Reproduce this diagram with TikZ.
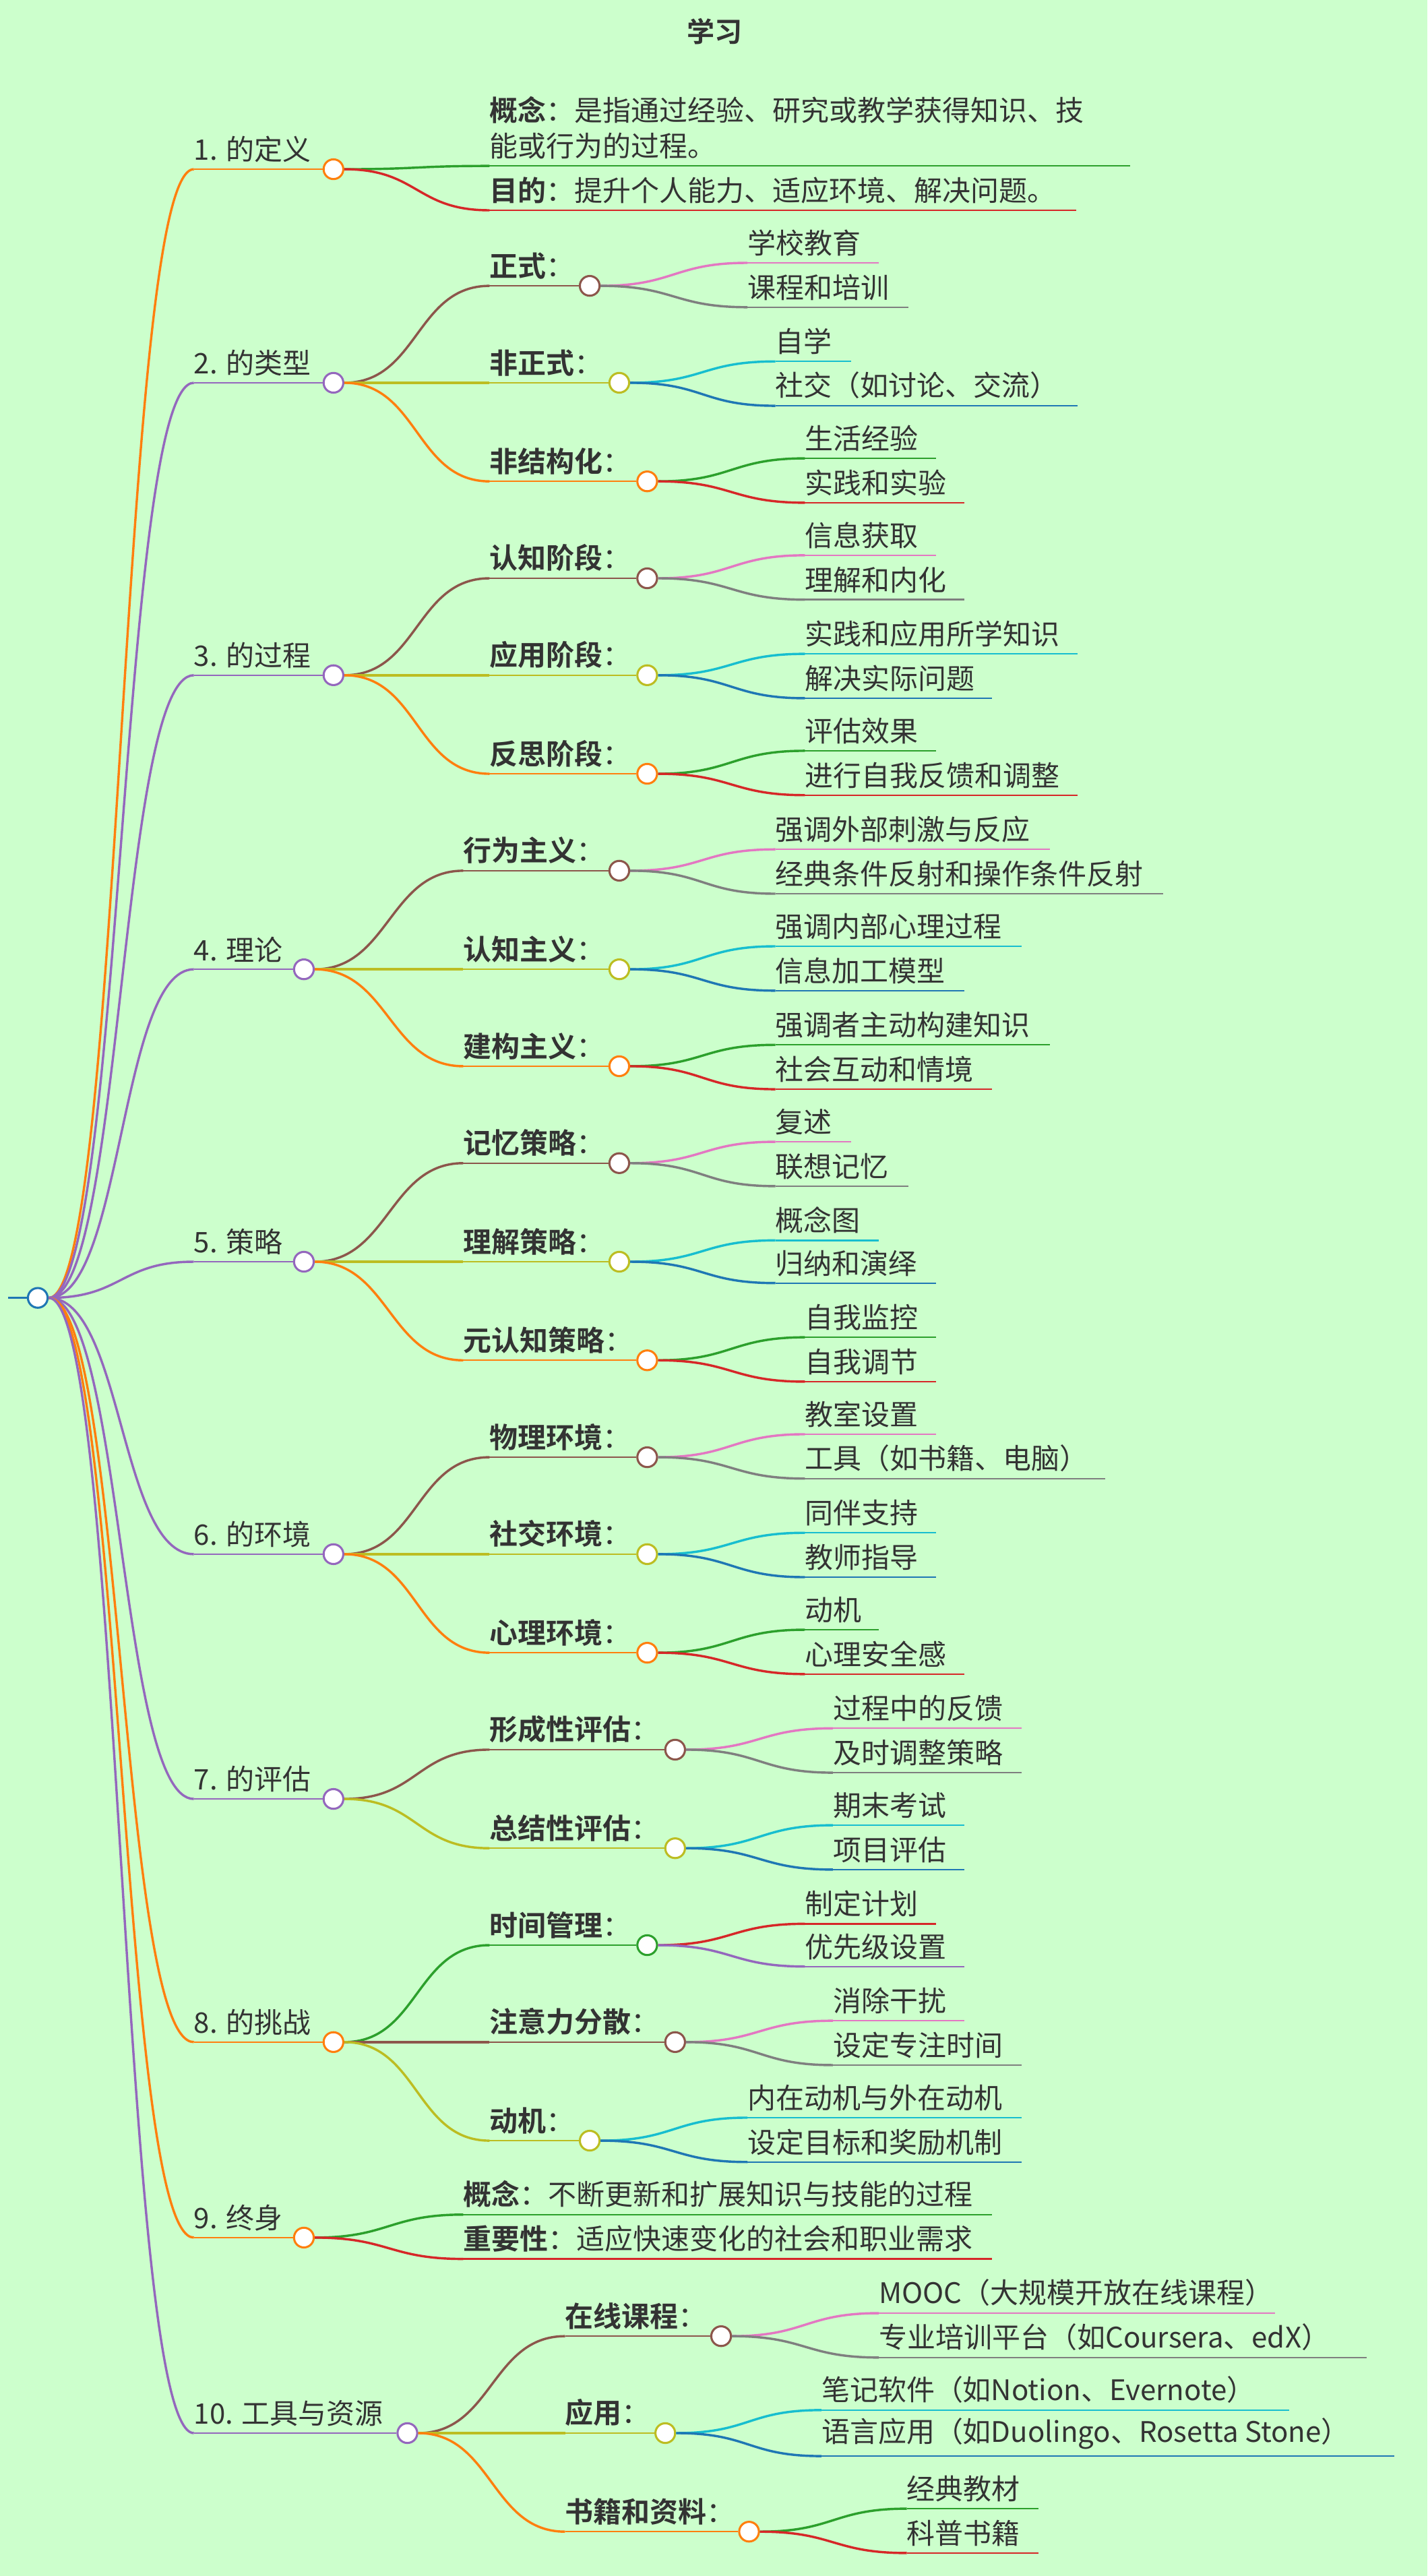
\documentclass[tikz,border=0pt]{standalone}
\usepackage{fontspec}
\setmainfont{Noto Sans CJK SC}[BoldFont={Noto Sans CJK SC Bold}]
\definecolor{bg}{HTML}{CCFFCC}
\definecolor{cOrange}{HTML}{FF7F0E}
\definecolor{cPurple}{HTML}{9467BD}
\definecolor{cBrown}{HTML}{8C564B}
\definecolor{cOlive}{HTML}{BCBD22}
\definecolor{cPink}{HTML}{E377C2}
\definecolor{cGray}{HTML}{7F7F7F}
\definecolor{cCyan}{HTML}{17BECF}
\definecolor{cBlue}{HTML}{1F77B4}
\definecolor{cGreen}{HTML}{2CA02C}
\definecolor{cRed}{HTML}{D62728}
\definecolor{txt}{HTML}{333333}
\tikzset{
	dot/.style={circle,draw=#1,fill=white,line width=1.8pt,minimum size=0.6cm,inner sep=0pt},
	edge/.style={line width=2pt},
	uline/.style={line width=1.4pt},
	lbl/.style={inner sep=0pt,anchor=south west,text=txt,font=\fontsize{24.5}{31}\selectfont,align=left}
}
% topic: name, parent, x, y, circle x, colour, text
\newcommand{\mmtopic}[7]{%
	\coordinate (#1s) at (#3,#4);
	\node[dot=#6] (#1) at (#5,#4) {};
	\node[lbl] (#1t) at (#3,#4-4) {#7};
	\draw[#6,edge] (#2.east) .. controls +(45,0) and +(-45,0) .. (#1s);
	\draw[#6,uline] (#1s) -- (#1.west);
}
% leaf: name, parent, x, y, end x, colour, text
\newcommand{\mmleaf}[7]{%
	\coordinate (#1s) at (#3,#4);
	\coordinate (#1e) at (#5,#4);
	\node[lbl] (#1t) at (#3,#4-4) {#7};
	\draw[#6,edge] (#2.east) .. controls +(45,0) and +(-45,0) .. (#1s);
	\draw[#6,uline] (#1s) -- (#1e);
}
\begin{document}
\begin{tikzpicture}[x=0.05cm,y=-0.05cm]
	\fill[bg] (0,0) rectangle (869,1568);
	\node[text=txt,font=\fontsize{24}{28}\selectfont\bfseries] (title) at (435,19) {学习};
	
	%root
	\coordinate (rootin) at (5,790);
	\node[dot=cBlue] (root) at (23,790) {};
	\draw[cBlue,edge] (rootin) -- (root.west);
	
	%1
	\mmtopic{a}{root}{118}{103}{203}{cOrange}{1. 的定义}
	\mmleaf{aa}{a}{298}{101}{688}{cGreen}{\textbf{概念}：是指通过经验、研究或教学获得知识、技\\能或行为的过程。}
	\mmleaf{ab}{a}{298}{128}{655}{cRed}{\textbf{目的}：提升个人能力、适应环境、解决问题。}
	
	%2
	\mmtopic{b}{root}{118}{233}{203}{cPurple}{2. 的类型}
	\mmtopic{ba}{b}{298}{174}{359}{cBrown}{\textbf{正式}：}
	\mmleaf{baa}{ba}{455}{160}{535}{cPink}{学校教育}
	\mmleaf{bab}{ba}{455}{187}{553}{cGray}{课程和培训}
	\mmtopic{bb}{b}{298}{233}{377}{cOlive}{\textbf{非正式}：}
	\mmleaf{bba}{bb}{472}{220}{518}{cCyan}{自学}
	\mmleaf{bbb}{bb}{472}{247}{656}{cBlue}{社交（如讨论、交流）}
	\mmtopic{bc}{b}{298}{293}{394}{cOrange}{\textbf{非结构化}：}
	\mmleaf{bca}{bc}{490}{279}{570}{cGreen}{生活经验}
	\mmleaf{bcb}{bc}{490}{306}{587}{cRed}{实践和实验}
	
	%3
	\mmtopic{c}{root}{118}{411}{203}{cPurple}{3. 的过程}
	\mmtopic{ca}{c}{298}{352}{394}{cBrown}{\textbf{认知阶段}：}
	\mmleaf{caa}{ca}{490}{338}{570}{cPink}{信息获取}
	\mmleaf{cab}{ca}{490}{365}{587}{cGray}{理解和内化}
	\mmtopic{cb}{c}{298}{411}{394}{cOlive}{\textbf{应用阶段}：}
	\mmleaf{cba}{cb}{490}{398}{656}{cCyan}{实践和应用所学知识}
	\mmleaf{cbb}{cb}{490}{425}{604}{cBlue}{解决实际问题}
	\mmtopic{cc}{c}{298}{471}{394}{cOrange}{\textbf{反思阶段}：}
	\mmleaf{cca}{cc}{490}{457}{570}{cGreen}{评估效果}
	\mmleaf{ccb}{cc}{490}{484}{656}{cRed}{进行自我反馈和调整}
	
	%4
	\mmtopic{d}{root}{118}{590}{185}{cPurple}{4. 理论}
	\mmtopic{da}{d}{282}{530}{377}{cBrown}{\textbf{行为主义}：}
	\mmleaf{daa}{da}{472}{517}{639}{cPink}{强调外部刺激与反应}
	\mmleaf{dab}{da}{472}{544}{708}{cGray}{经典条件反射和操作条件反射}
	\mmtopic{db}{d}{282}{590}{377}{cOlive}{\textbf{认知主义}：}
	\mmleaf{dba}{db}{472}{576}{622}{cCyan}{强调内部心理过程}
	\mmleaf{dbb}{db}{472}{603}{587}{cBlue}{信息加工模型}
	\mmtopic{dc}{d}{282}{649}{377}{cOrange}{\textbf{建构主义}：}
	\mmleaf{dca}{dc}{472}{636}{639}{cGreen}{强调者主动构建知识}
	\mmleaf{dcb}{dc}{472}{663}{604}{cRed}{社会互动和情境}
	
	%5
	\mmtopic{e}{root}{118}{768}{185}{cPurple}{5. 策略}
	\mmtopic{ea}{e}{282}{708}{377}{cBrown}{\textbf{记忆策略}：}
	\mmleaf{eaa}{ea}{472}{695}{518}{cPink}{复述}
	\mmleaf{eab}{ea}{472}{722}{553}{cGray}{联想记忆}
	\mmtopic{eb}{e}{282}{768}{377}{cOlive}{\textbf{理解策略}：}
	\mmleaf{eba}{eb}{472}{755}{535}{cCyan}{概念图}
	\mmleaf{ebb}{eb}{472}{781}{570}{cBlue}{归纳和演绎}
	\mmtopic{ec}{e}{282}{828}{394}{cOrange}{\textbf{元认知策略}：}
	\mmleaf{eca}{ec}{490}{814}{570}{cGreen}{自我监控}
	\mmleaf{ecb}{ec}{490}{841}{570}{cRed}{自我调节}
	
	%6
	\mmtopic{f}{root}{118}{946}{203}{cPurple}{6. 的环境}
	\mmtopic{fa}{f}{298}{887}{394}{cBrown}{\textbf{物理环境}：}
	\mmleaf{faa}{fa}{490}{873}{570}{cPink}{教室设置}
	\mmleaf{fab}{fa}{490}{900}{673}{cGray}{工具（如书籍、电脑）}
	\mmtopic{fb}{f}{298}{946}{394}{cOlive}{\textbf{社交环境}：}
	\mmleaf{fba}{fb}{490}{933}{570}{cCyan}{同伴支持}
	\mmleaf{fbb}{fb}{490}{960}{570}{cBlue}{教师指导}
	\mmtopic{fc}{f}{298}{1006}{394}{cOrange}{\textbf{心理环境}：}
	\mmleaf{fca}{fc}{490}{992}{535}{cGreen}{动机}
	\mmleaf{fcb}{fc}{490}{1019}{587}{cRed}{心理安全感}
	
	%7
	\mmtopic{g}{root}{118}{1095}{203}{cPurple}{7. 的评估}
	\mmtopic{ga}{g}{298}{1065}{411}{cBrown}{\textbf{形成性评估}：}
	\mmleaf{gaa}{ga}{507}{1052}{622}{cPink}{过程中的反馈}
	\mmleaf{gab}{ga}{507}{1079}{622}{cGray}{及时调整策略}
	\mmtopic{gb}{g}{298}{1125}{411}{cOlive}{\textbf{总结性评估}：}
	\mmleaf{gba}{gb}{507}{1111}{587}{cCyan}{期末考试}
	\mmleaf{gbb}{gb}{507}{1138}{587}{cBlue}{项目评估}
	
	%8
	\mmtopic{h}{root}{118}{1243}{203}{cOrange}{8. 的挑战}
	\mmtopic{ha}{h}{298}{1184}{394}{cGreen}{\textbf{时间管理}：}
	\mmleaf{haa}{ha}{490}{1171}{570}{cRed}{制定计划}
	\mmleaf{hab}{ha}{490}{1197}{587}{cPurple}{优先级设置}
	\mmtopic{hb}{h}{298}{1243}{411}{cBrown}{\textbf{注意力分散}：}
	\mmleaf{hba}{hb}{507}{1230}{587}{cPink}{消除干扰}
	\mmleaf{hbb}{hb}{507}{1257}{622}{cGray}{设定专注时间}
	\mmtopic{hc}{h}{298}{1303}{359}{cOlive}{\textbf{动机}：}
	\mmleaf{hca}{hc}{455}{1289}{622}{cCyan}{内在动机与外在动机}
	\mmleaf{hcb}{hc}{455}{1316}{622}{cBlue}{设定目标和奖励机制}
	
	%9
	\mmtopic{i}{root}{118}{1362}{185}{cOrange}{9. 终身}
	\mmleaf{ia}{i}{282}{1348}{604}{cGreen}{\textbf{概念}：不断更新和扩展知识与技能的过程}
	\mmleaf{ib}{i}{282}{1375}{604}{cRed}{\textbf{重要性}：适应快速变化的社会和职业需求}
	
	%10
	\mmtopic{j}{root}{118}{1481}{248}{cPurple}{10. 工具与资源}
	\mmtopic{ja}{j}{344}{1422}{439}{cBrown}{\textbf{在线课程}：}
	\mmleaf{jaa}{ja}{535}{1408}{776}{cPink}{MOOC（大规模开放在线课程）}
	\mmleaf{jab}{ja}{535}{1435}{832}{cGray}{专业培训平台（如Coursera、edX）}
	\mmtopic{jb}{j}{344}{1481}{405}{cOlive}{\textbf{应用}：}
	\mmleaf{jba}{jb}{500}{1467}{785}{cCyan}{笔记软件（如Notion、Evernote）}
	\mmleaf{jbb}{jb}{500}{1495}{849}{cBlue}{语言应用（如Duolingo、Rosetta Stone）}
	\mmtopic{jc}{j}{344}{1541}{456}{cOrange}{\textbf{书籍和资料}：}
	\mmleaf{jca}{jc}{552}{1527}{632}{cGreen}{经典教材}
	\mmleaf{jcb}{jc}{552}{1554}{632}{cRed}{科普书籍}
\end{tikzpicture}
\end{document}
